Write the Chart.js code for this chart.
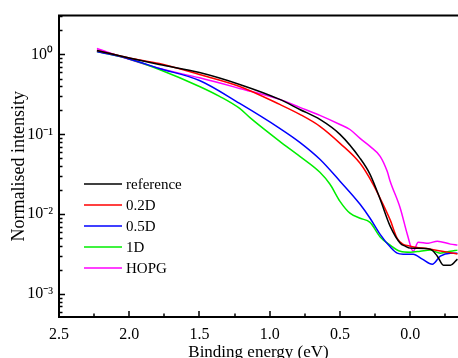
<!DOCTYPE html>
<html>
<head>
<meta charset="utf-8">
<script src="https://cdn.jsdelivr.net/npm/chart.js@4"></script>
<style>
  html, body { margin: 0; padding: 0; background: #fff; overflow: hidden; }
  canvas { display: block; }
</style>
</head>
<body>
<canvas id="chart" width="458" height="358"></canvas>
<script>
// binding energy (eV) / normalised intensity
const refE = [2.23, 2.0, 1.786, 1.5, 1.214, 0.929, 0.786, 0.643, 0.5, 0.357, 0.286, 0.214, 0.143, 0.071, 0.036, 0.0, -0.143, -0.193, -0.236, -0.286, -0.336];
const refI = [1.12, 0.905, 0.75, 0.595, 0.422, 0.274, 0.205, 0.154, 0.1, 0.0501, 0.0316, 0.0154, 0.0071, 0.00434, 0.00398, 0.00376, 0.00365, 0.00298, 0.0023, 0.0023, 0.00274];

const d02E = [2.23, 2.0, 1.786, 1.5, 1.214, 0.929, 0.786, 0.643, 0.5, 0.357, 0.264, 0.214, 0.143, 0.093, 0.05, 0.0, -0.143, -0.286, -0.336];
const d02I = [1.12, 0.905, 0.77, 0.562, 0.398, 0.237, 0.178, 0.126, 0.0772, 0.0434, 0.0237, 0.0158, 0.0085, 0.005, 0.0042, 0.00398, 0.00365, 0.0033, 0.00318];

const d05E = [2.23, 2.0, 1.786, 1.5, 1.214, 0.929, 0.786, 0.643, 0.5, 0.357, 0.286, 0.214, 0.143, 0.093, 0.05, -0.021, -0.086, -0.157, -0.214, -0.286, -0.336];
const d05I = [1.09, 0.88, 0.668, 0.473, 0.244, 0.119, 0.0794, 0.0487, 0.0259, 0.0133, 0.0089, 0.0056, 0.0039, 0.00325, 0.00316, 0.00316, 0.00274, 0.00237, 0.00298, 0.00325, 0.00325];

const d1E = [2.23, 2.0, 1.786, 1.5, 1.357, 1.214, 1.143, 0.929, 0.786, 0.643, 0.571, 0.5, 0.429, 0.357, 0.286, 0.214, 0.143, 0.071, 0.0, -0.071, -0.143, -0.214, -0.286, -0.336];
const d1I = [1.09, 0.88, 0.65, 0.398, 0.299, 0.211, 0.163, 0.0818, 0.0531, 0.0335, 0.0237, 0.0145, 0.0103, 0.0089, 0.0079, 0.0052, 0.0041, 0.00344, 0.00335, 0.00344, 0.00355, 0.00325, 0.00344, 0.00355];

const hopgE = [2.23, 2.0, 1.786, 1.5, 1.214, 0.929, 0.786, 0.643, 0.5, 0.429, 0.357, 0.286, 0.214, 0.164, 0.143, 0.071, 0.021, -0.021, -0.057, -0.129, -0.193, -0.286, -0.336];
const hopgI = [1.19, 0.87, 0.668, 0.51, 0.376, 0.274, 0.218, 0.173, 0.133, 0.115, 0.089, 0.0708, 0.0531, 0.0344, 0.0259, 0.0119, 0.00562, 0.00344, 0.00447, 0.00434, 0.0046, 0.00422, 0.0041];

const seriesNames = ['reference', '0.2D', '0.5D', '1D', 'HOPG'];
const seriesColors = ['#000000', '#ff0000', '#0000ff', '#00ee00', '#ff00ff'];

const xTicks = [2.5, 2.0, 1.5, 1.0, 0.5, 0.0];
const yTicks = [1e-3, 1e-2, 1e-1, 1];
const yTickLabels = ['10\u207B\u00B3', '10\u207B\u00B2', '10\u207B\u00B9', '10\u2070'];

const serif = "'Liberation Serif', 'Times New Roman', serif";

function toPoints(xs, ys) {
    return xs.map(function(x, i) { return {x: x, y: ys[i]}; });
}

const allE = [refE, d02E, d05E, d1E, hopgE];
const allI = [refI, d02I, d05I, d1I, hopgI];

const datasets = seriesNames.map(function(name, i) {
    return {
        label: name,
        data: toPoints(allE[i], allI[i]),
        borderColor: seriesColors[i],
        borderWidth: 1.5,
        pointRadius: 0,
        cubicInterpolationMode: 'monotone',
        fill: false
    };
});

// inward ticks, top frame line and the legend inside the plot
const framePlugin = {
    id: 'frame',
    afterDraw: function(chart) {
        const ctx = chart.ctx;
        const a = chart.chartArea;
        const x = chart.scales.x;
        const y = chart.scales.y;
        ctx.save();
        ctx.strokeStyle = '#000';
        ctx.lineWidth = 2;
        ctx.beginPath();
        ctx.moveTo(a.left - 1, a.top);
        ctx.lineTo(a.right, a.top);
        ctx.stroke();

        ctx.lineWidth = 1.5;
        ctx.beginPath();
        for (let v = 2.5; v >= -0.5; v -= 0.25) {
            const px = Math.round(x.getPixelForValue(v));
            if (px < a.left || px > a.right) continue;
            const major = Math.abs(v * 2 - Math.round(v * 2)) < 1e-6;
            const len = major ? 6 : 3.5;
            ctx.moveTo(px, a.bottom);
            ctx.lineTo(px, a.bottom - len);
        }
        for (let p = -4; p <= 0; p++) {
            for (let m = 1; m <= 9; m++) {
                const v = m * Math.pow(10, p);
                const py = Math.round(y.getPixelForValue(v)) + 0.5;
                if (py < a.top || py > a.bottom) continue;
                const len = m === 1 ? 6 : 3.5;
                ctx.moveTo(a.left, py);
                ctx.lineTo(a.left + len, py);
            }
        }
        ctx.stroke();

        ctx.font = '15px ' + serif;
        ctx.textBaseline = 'middle';
        ctx.fillStyle = '#000';
        chart.data.datasets.forEach(function(ds, i) {
            const ly = 184 + i * 21;
            ctx.strokeStyle = ds.borderColor;
            ctx.lineWidth = 1.5;
            ctx.beginPath();
            ctx.moveTo(84, ly);
            ctx.lineTo(122, ly);
            ctx.stroke();
            ctx.fillText(ds.label, 126, ly + 1);
        });
        ctx.restore();
    }
};

const ctx = document.getElementById('chart').getContext('2d');
const chart = new Chart(ctx, {
    type: 'line',
    data: { datasets: datasets },
    plugins: [framePlugin],
    options: {
        responsive: false,
        animation: false,
        devicePixelRatio: 1,
        layout: { padding: { top: 14, right: 0, left: 0, bottom: 0 } },
        plugins: {
            legend: { display: false },
            tooltip: { enabled: false }
        },
        scales: {
            x: {
                type: 'linear',
                reverse: true,
                min: -0.34,
                max: 2.5,
                afterFit: function(scale) { scale.height = 41; },
                afterBuildTicks: function(scale) {
                    scale.ticks = xTicks.map(function(v) { return {value: v}; });
                },
                grid: { display: false, drawTicks: false },
                border: { display: true, color: '#000', width: 2 },
                ticks: {
                    color: '#000',
                    padding: 8,
                    maxRotation: 0,
                    autoSkip: false,
                    font: { family: serif, size: 16 },
                    callback: function(v) { return Number(v).toFixed(1); }
                },
                title: {
                    display: true,
                    text: 'Binding energy (eV)',
                    color: '#000',
                    padding: { top: 0, bottom: -5 },
                    font: { family: serif, size: 17 }
                }
            },
            y: {
                type: 'logarithmic',
                min: 5.16e-4,
                max: 3.07,
                afterFit: function(scale) { scale.width = 59; },
                afterBuildTicks: function(scale) {
                    scale.ticks = yTicks.map(function(v) { return {value: v}; });
                },
                grid: { display: false, drawTicks: false },
                border: { display: true, color: '#000', width: 2 },
                ticks: {
                    color: '#000',
                    padding: 6,
                    autoSkip: false,
                    font: { family: serif, size: 16 },
                    callback: function(v) {
                        const i = yTicks.findIndex(function(t) { return Math.abs(t - v) / t < 1e-6; });
                        return i >= 0 ? yTickLabels[i] : '';
                    }
                },
                title: {
                    display: true,
                    text: 'Normalised intensity',
                    color: '#000',
                    padding: { top: 8, bottom: 0 },
                    font: { family: serif, size: 18 }
                }
            }
        }
    }
});
</script>
</body>
</html>
